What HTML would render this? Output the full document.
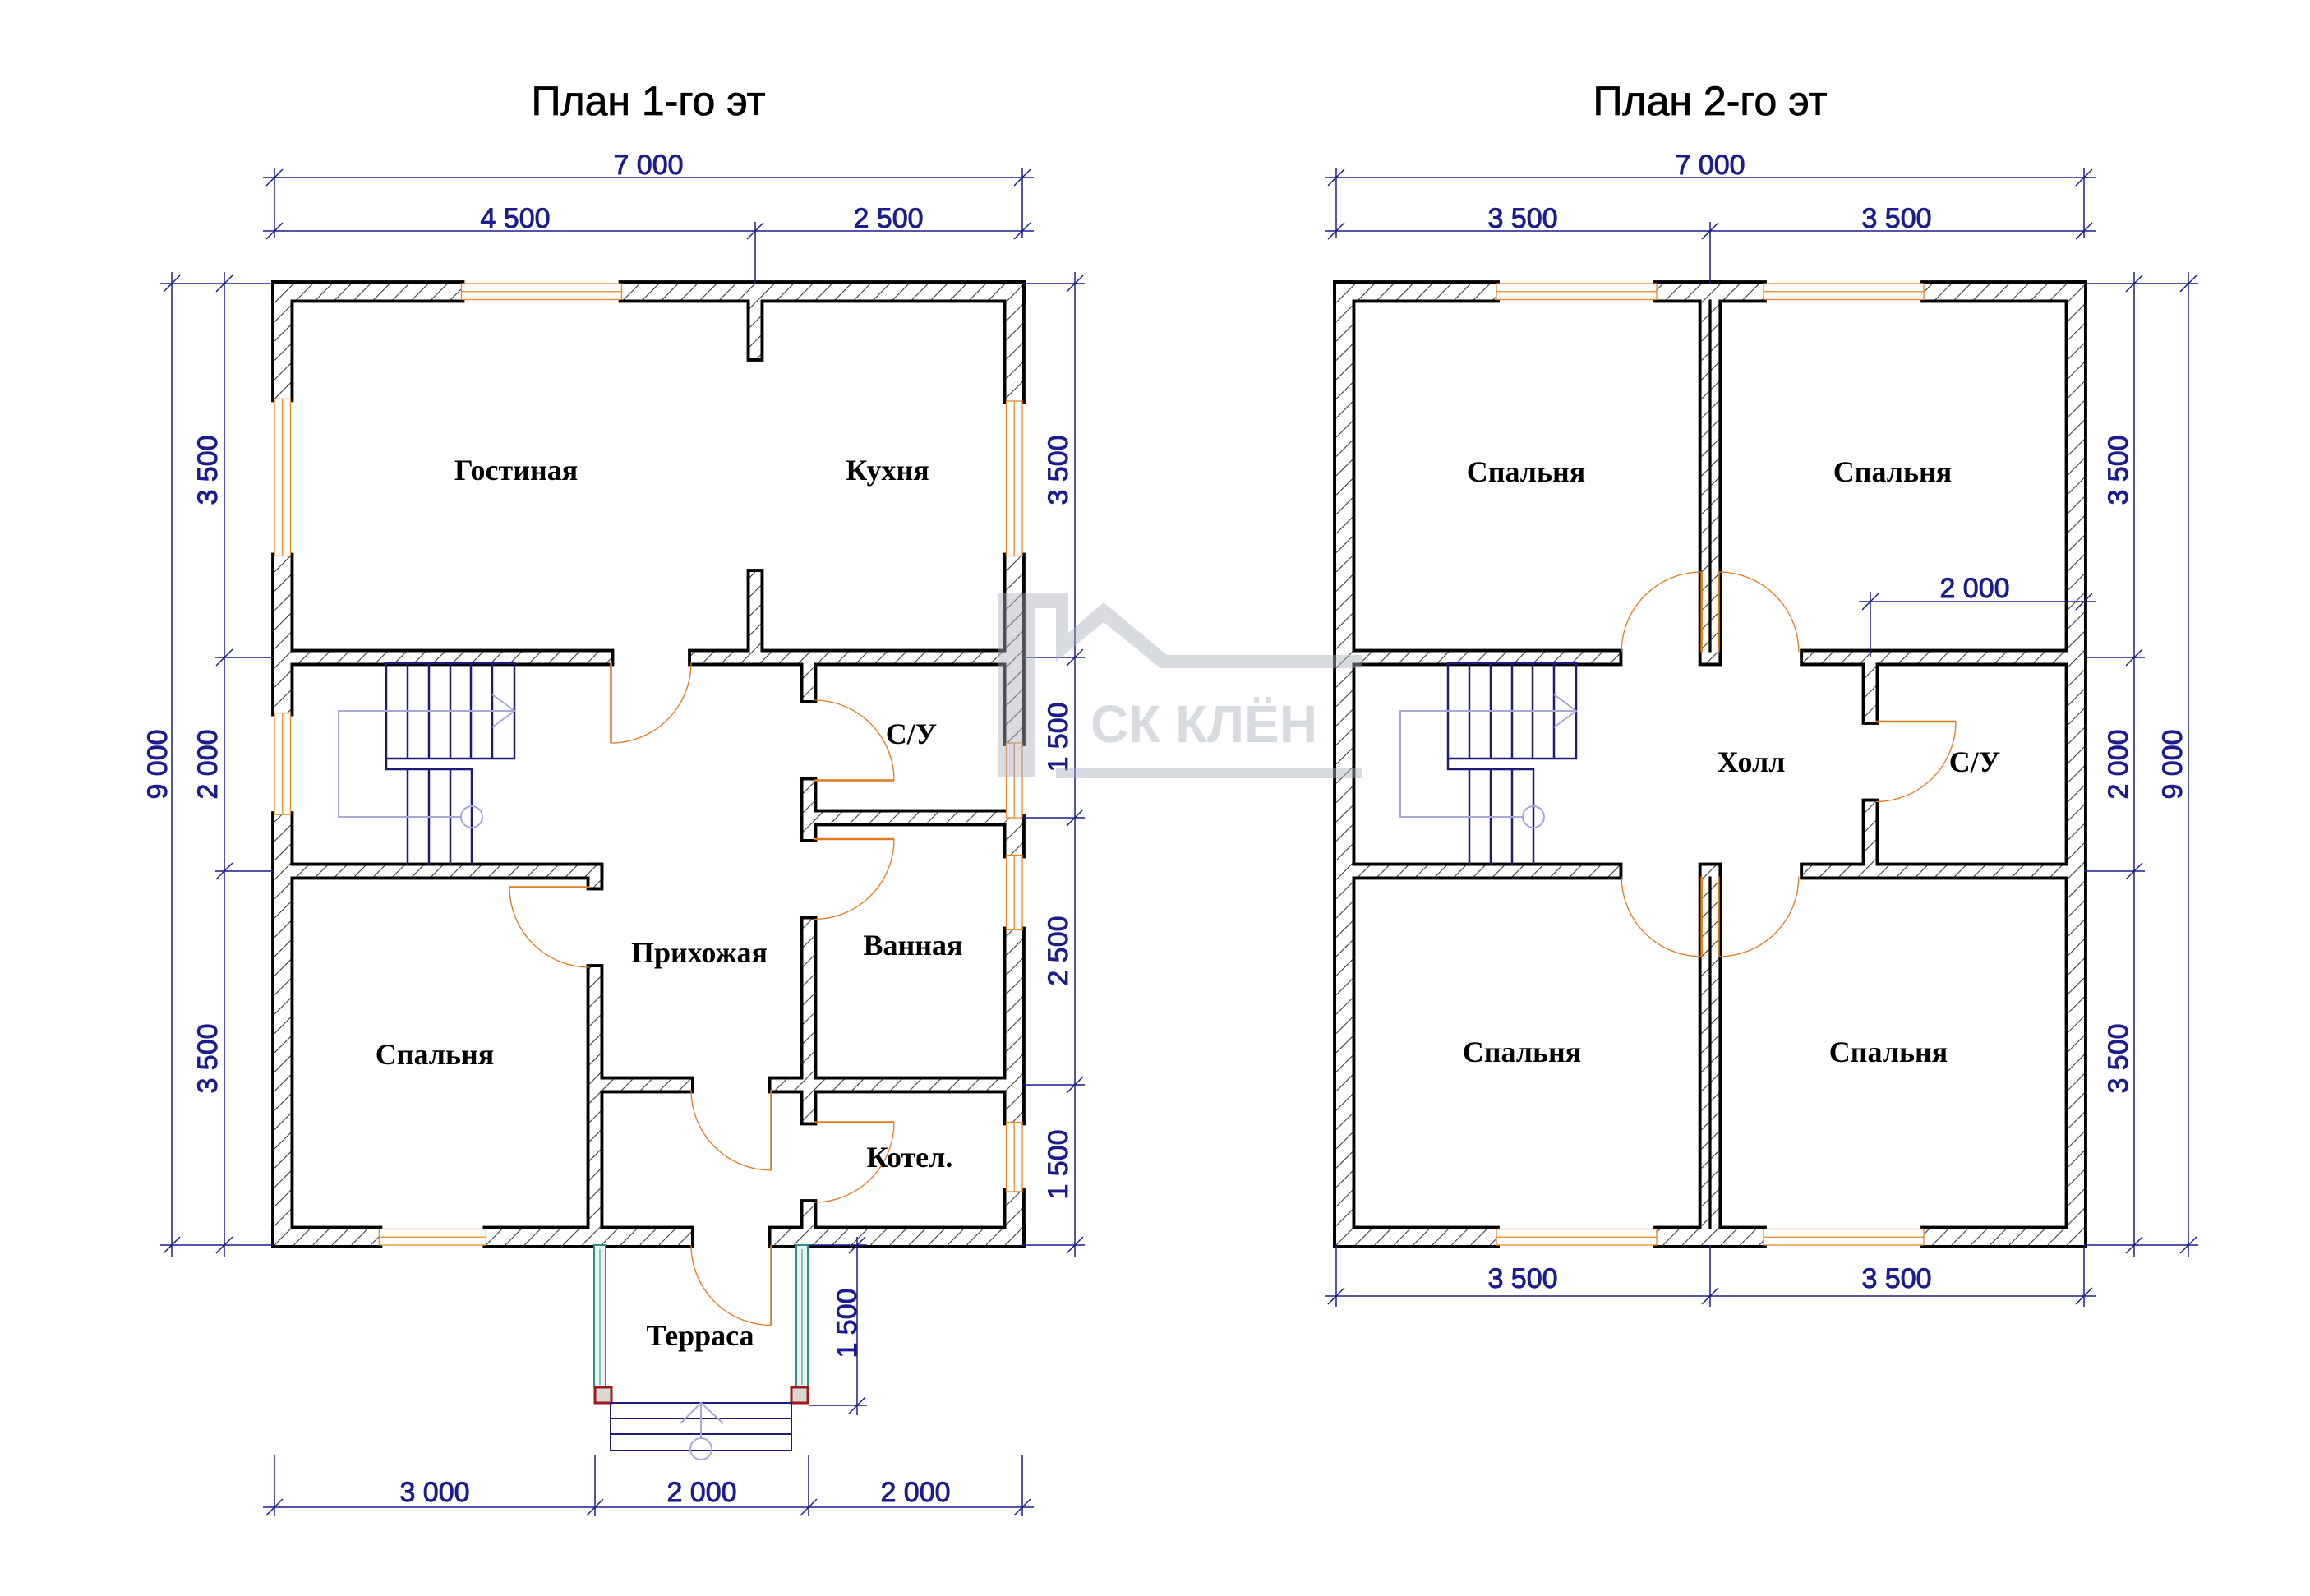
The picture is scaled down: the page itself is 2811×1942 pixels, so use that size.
<!DOCTYPE html>
<html><head><meta charset="utf-8"><style>
html,body{margin:0;padding:0;background:#fff}
svg{display:block}
.dim{font-family:"Liberation Sans",sans-serif;font-size:34px;fill:#1c1c8c;stroke:#1c1c8c;stroke-width:0.9;text-anchor:middle}
.ttl{font-family:"Liberation Sans",sans-serif;font-size:50px;fill:#000;stroke:#000;stroke-width:0.8;text-anchor:middle}
.rm{font-family:"Liberation Serif",serif;font-weight:bold;font-size:36px;fill:#000;text-anchor:middle}
.dl{stroke:#1c1c8c;stroke-width:1.5;fill:none}
.tk{stroke:#1c1c8c;stroke-width:1.5}
</style></head><body>
<svg width="2811" height="1942" viewBox="0 0 2811 1942" xmlns="http://www.w3.org/2000/svg">
<defs>
<pattern id="h" width="180" height="180" patternUnits="userSpaceOnUse"><rect width="180" height="180" fill="#fff"/><path d="M-20,200 L200,-20" stroke="#333" stroke-width="8"/></pattern>
</defs>
<rect width="2811" height="1942" fill="#fff"/>

<text class="ttl" x="789" y="140">План 1-го эт</text>
<text class="ttl" x="2081" y="140">План 2-го эт</text>

<!-- ============ PLAN 1 ============ -->
<g transform="translate(334,345) scale(0.13)">
 <g stroke="#000" stroke-width="60" fill="#000">
  <rect x="0" y="0" width="1750" height="150"/><rect x="3250" y="0" width="3750" height="150"/>
  <rect x="0" y="0" width="150" height="1080"/><rect x="0" y="2550" width="150" height="1470"/><rect x="0" y="4970" width="150" height="4030"/>
  <rect x="6850" y="0" width="150" height="1100"/><rect x="6850" y="2550" width="150" height="1750"/><rect x="6850" y="5000" width="150" height="350"/><rect x="6850" y="6050" width="150" height="1800"/><rect x="6850" y="8500" width="150" height="500"/>
  <rect x="0" y="8850" width="980" height="150"/><rect x="1980" y="8850" width="1920" height="150"/><rect x="4650" y="8850" width="2350" height="150"/>
  <rect x="4450" y="150" width="100" height="550"/><rect x="4450" y="2700" width="100" height="800"/>
  <rect x="150" y="3450" width="3000" height="100"/><rect x="3900" y="3450" width="2950" height="100"/>
  <rect x="150" y="5450" width="2900" height="100"/>
  <rect x="2950" y="5450" width="100" height="200"/><rect x="2950" y="6400" width="100" height="2450"/>
  <rect x="3050" y="7450" width="850" height="100"/><rect x="4650" y="7450" width="2200" height="100"/>
  <rect x="4950" y="3550" width="100" height="350"/><rect x="4950" y="4650" width="100" height="550"/><rect x="4950" y="5950" width="100" height="1900"/><rect x="4950" y="8600" width="100" height="250"/>
  <rect x="5050" y="4950" width="1800" height="100"/>
 </g>
 <g fill="url(#h)">
  <rect x="0" y="0" width="1750" height="150"/><rect x="3250" y="0" width="3750" height="150"/>
  <rect x="0" y="0" width="150" height="1080"/><rect x="0" y="2550" width="150" height="1470"/><rect x="0" y="4970" width="150" height="4030"/>
  <rect x="6850" y="0" width="150" height="1100"/><rect x="6850" y="2550" width="150" height="1750"/><rect x="6850" y="5000" width="150" height="350"/><rect x="6850" y="6050" width="150" height="1800"/><rect x="6850" y="8500" width="150" height="500"/>
  <rect x="0" y="8850" width="980" height="150"/><rect x="1980" y="8850" width="1920" height="150"/><rect x="4650" y="8850" width="2350" height="150"/>
  <rect x="4450" y="150" width="100" height="550"/><rect x="4450" y="2700" width="100" height="800"/>
  <rect x="150" y="3450" width="3000" height="100"/><rect x="3900" y="3450" width="2950" height="100"/>
  <rect x="150" y="5450" width="2900" height="100"/>
  <rect x="2950" y="5450" width="100" height="200"/><rect x="2950" y="6400" width="100" height="2450"/>
  <rect x="3050" y="7450" width="850" height="100"/><rect x="4650" y="7450" width="2200" height="100"/>
  <rect x="4950" y="3550" width="100" height="350"/><rect x="4950" y="4650" width="100" height="550"/><rect x="4950" y="5950" width="100" height="1900"/><rect x="4950" y="8600" width="100" height="250"/>
  <rect x="5050" y="4950" width="1800" height="100"/>
 </g>
 <g stroke="#e8872a" stroke-width="10" fill="#fff">
  <rect x="1750" y="0" width="1500" height="150"/><path d="M1750,75H3250"/>
  <rect x="0" y="1080" width="150" height="1470"/><path d="M75,1080V2550"/>
  <rect x="0" y="4020" width="150" height="950"/><path d="M75,4020V4970"/>
  <rect x="6850" y="1100" width="150" height="1450"/><path d="M6925,1100V2550"/>
  <rect x="6850" y="4300" width="150" height="700"/><path d="M6925,4300V5000"/>
  <rect x="6850" y="5350" width="150" height="700"/><path d="M6925,5350V6050"/>
  <rect x="6850" y="7850" width="150" height="650"/><path d="M6925,7850V8500"/>
  <rect x="980" y="8850" width="1000" height="150"/><path d="M980,8925H1980"/>
 </g>
 <g stroke="#e07a1e" fill="none">
  <path d="M3150,3550V4300" stroke-width="20"/><path d="M3150,4300A750,750 0 0 0 3900,3550" stroke-width="10"/>
  <path d="M5050,4650H5800" stroke-width="20"/><path d="M5800,4650A750,750 0 0 0 5050,3900" stroke-width="10"/>
  <path d="M5050,5200H5800" stroke-width="20"/><path d="M5800,5200A750,750 0 0 1 5050,5950" stroke-width="10"/>
  <path d="M2950,5650H2200" stroke-width="20"/><path d="M2200,5650A750,750 0 0 0 2950,6400" stroke-width="10"/>
  <path d="M4650,7550V8300" stroke-width="20"/><path d="M4650,8300A750,750 0 0 1 3900,7550" stroke-width="10"/>
  <path d="M5050,7850H5800" stroke-width="20"/><path d="M5800,7850A750,750 0 0 1 5050,8600" stroke-width="10"/>
  <path d="M4650,9000V9750" stroke-width="20"/><path d="M4650,9750A750,750 0 0 1 3900,9000" stroke-width="10"/>
 </g>
</g>

<!-- stair plan 1 -->
<g transform="translate(334,345)">
 <g stroke="#1e1a7a" stroke-width="2.5" fill="none">
  <rect x="136" y="462" width="156" height="116"/>
  <path d="M162,462V578M188,462V578M214,462V578M239,462V578M265,462V578"/>
  <path d="M136,578V591H240V708M162,591V708M188,591V708M214,591V708"/>
 </g>
 <g stroke="#a8a8d8" stroke-width="2" fill="none">
  <path d="M292,520H78V649H227"/><circle cx="240" cy="649" r="13"/><path d="M265,500L292,520L265,540"/>
 </g>
</g>

<!-- terrace -->
<g>
 <g stroke="#2f8f85" stroke-width="2" fill="#e8f4f3">
  <rect x="723" y="1515" width="14" height="172"/><rect x="969" y="1515" width="14" height="172"/>
 </g>
 <path d="M730,1520V1685M976,1520V1685" stroke="#2f8f85" stroke-width="1"/>
 <rect x="724" y="1688" width="20" height="19" fill="#d8d8d0" stroke="#a01818" stroke-width="3"/>
 <rect x="963" y="1688" width="20" height="19" fill="#d8d8d0" stroke="#a01818" stroke-width="3"/>
 <g stroke="#1e1a7a" stroke-width="2" fill="none"><rect x="743" y="1707" width="220" height="58"/><path d="M743,1726H963M743,1745H963"/></g>
 <g stroke="#a8a8d8" stroke-width="2" fill="none"><path d="M853,1750V1707M828,1732L853,1707L880,1732"/><circle cx="853" cy="1763" r="13"/></g>
</g>

<!-- room labels plan1 -->
<text class="rm" x="628" y="584">Гостиная</text>
<text class="rm" x="1080" y="584">Кухня</text>
<text class="rm" x="1109" y="905">С/У</text>
<text class="rm" x="851" y="1171">Прихожая</text>
<text class="rm" x="1111" y="1162">Ванная</text>
<text class="rm" x="529" y="1295">Спальня</text>
<text class="rm" x="1107" y="1420">Котел.</text>
<text class="rm" x="852" y="1637">Терраса</text>

<!-- dims plan1 -->
<g class="dl">
 <path d="M320,216H1258M320,281H1258"/>
 <path d="M334,205V290M1244,205V290M919,270V345"/>
 <path d="M195,345H334M195,1515H334M262,800H334M262,1060H334"/>
 <path d="M209,331V1529M273,331V1529"/>
 <path d="M1244,345H1320M1244,800H1320M1244,995H1320M1244,1320H1320M1244,1515H1320"/>
 <path d="M1308,331V1529"/>
 <path d="M320,1834H1258M334,1770V1845M724,1770V1845M984,1770V1845M1244,1770V1845"/>
 <path d="M1043,1505V1722M984,1515H1055M984,1710H1055"/>
</g>
<g class="tk">
 <path d="M324,226L344,206M1234,226L1254,206M324,291L344,271M909,291L929,271M1234,291L1254,271"/>
 <path d="M199,355L219,335M199,1525L219,1505M263,355L283,335M263,810L283,790M263,1070L283,1050M263,1525L283,1505"/>
 <path d="M1298,355L1318,335M1298,810L1318,790M1298,1005L1318,985M1298,1330L1318,1310M1298,1525L1318,1505"/>
 <path d="M324,1844L344,1824M714,1844L734,1824M974,1844L994,1824M1234,1844L1254,1824"/>
 <path d="M1033,1525L1053,1505M1033,1720L1053,1700"/>
</g>
<text class="dim" x="789" y="212">7 000</text>
<text class="dim" x="627" y="277">4 500</text>
<text class="dim" x="1081" y="277">2 500</text>
<text class="dim" x="529" y="1827">3 000</text>
<text class="dim" x="854" y="1827">2 000</text>
<text class="dim" x="1114" y="1827">2 000</text>
<text class="dim" transform="translate(252,572) rotate(-90)" y="12">3 500</text>
<text class="dim" transform="translate(252,930) rotate(-90)" y="12">2 000</text>
<text class="dim" transform="translate(252,1288) rotate(-90)" y="12">3 500</text>
<text class="dim" transform="translate(191,930) rotate(-90)" y="12">9 000</text>
<text class="dim" transform="translate(1287,572) rotate(-90)" y="12">3 500</text>
<text class="dim" transform="translate(1287,897) rotate(-90)" y="12">1 500</text>
<text class="dim" transform="translate(1287,1157) rotate(-90)" y="12">2 500</text>
<text class="dim" transform="translate(1287,1417) rotate(-90)" y="12">1 500</text>
<text class="dim" transform="translate(1030,1610) rotate(-90)" y="12">1 500</text>

<!-- ============ PLAN 2 ============ -->
<g transform="translate(1626,345) scale(0.13)">
 <g stroke="#000" stroke-width="60" fill="#000">
  <rect x="0" y="0" width="1500" height="150"/><rect x="3000" y="0" width="1000" height="150"/><rect x="5500" y="0" width="1500" height="150"/>
  <rect x="0" y="8850" width="1500" height="150"/><rect x="3000" y="8850" width="1000" height="150"/><rect x="5500" y="8850" width="1500" height="150"/>
  <rect x="0" y="0" width="150" height="9000"/><rect x="6850" y="0" width="150" height="9000"/>
  <rect x="3420" y="0" width="160" height="3550"/><rect x="3420" y="5450" width="160" height="3550"/>
  <rect x="150" y="3450" width="2500" height="100"/><rect x="4370" y="3450" width="2480" height="100"/>
  <rect x="150" y="5450" width="2500" height="100"/><rect x="4370" y="5450" width="2480" height="100"/>
  <rect x="4950" y="3550" width="100" height="550"/><rect x="4950" y="4850" width="100" height="600"/>
 </g>
 <g fill="url(#h)">
  <rect x="0" y="0" width="1500" height="150"/><rect x="3000" y="0" width="1000" height="150"/><rect x="5500" y="0" width="1500" height="150"/>
  <rect x="0" y="8850" width="1500" height="150"/><rect x="3000" y="8850" width="1000" height="150"/><rect x="5500" y="8850" width="1500" height="150"/>
  <rect x="0" y="0" width="150" height="9000"/><rect x="6850" y="0" width="150" height="9000"/>
  <rect x="3420" y="0" width="160" height="3550"/><rect x="3420" y="5450" width="160" height="3550"/>
  <rect x="150" y="3450" width="2500" height="100"/><rect x="4370" y="3450" width="2480" height="100"/>
  <rect x="150" y="5450" width="2500" height="100"/><rect x="4370" y="5450" width="2480" height="100"/>
  <rect x="4950" y="3550" width="100" height="550"/><rect x="4950" y="4850" width="100" height="600"/>
 </g>
 <path d="M3500,150V3450M3500,5550V8850" stroke="#000" stroke-width="25"/>
 <g stroke="#e8872a" stroke-width="10" fill="#fff">
  <rect x="1500" y="0" width="1500" height="150"/><path d="M1500,75H3000"/>
  <rect x="4000" y="0" width="1500" height="150"/><path d="M4000,75H5500"/>
  <rect x="1500" y="8850" width="1500" height="150"/><path d="M1500,8925H3000"/>
  <rect x="4000" y="8850" width="1500" height="150"/><path d="M4000,8925H5500"/>
 </g>
 <g stroke="#e07a1e" fill="none">
  <path d="M3420,3450V2700" stroke-width="20"/><path d="M3420,2700A750,750 0 0 0 2670,3450" stroke-width="10"/>
  <path d="M3580,3450V2700" stroke-width="20"/><path d="M3580,2700A750,750 0 0 1 4330,3450" stroke-width="10"/>
  <path d="M3420,5550V6300" stroke-width="20"/><path d="M3420,6300A750,750 0 0 1 2670,5550" stroke-width="10"/>
  <path d="M3580,5550V6300" stroke-width="20"/><path d="M3580,6300A750,750 0 0 0 4330,5550" stroke-width="10"/>
  <path d="M5050,4100H5800" stroke-width="20"/><path d="M5800,4100A750,750 0 0 1 5050,4850" stroke-width="10"/>
 </g>
</g>

<!-- stair plan 2 -->
<g transform="translate(1626,345)">
 <g stroke="#1e1a7a" stroke-width="2.5" fill="none">
  <rect x="136" y="462" width="156" height="116"/>
  <path d="M162,462V578M188,462V578M214,462V578M239,462V578M265,462V578"/>
  <path d="M136,578V591H240V708M162,591V708M188,591V708M214,591V708"/>
 </g>
 <g stroke="#a8a8d8" stroke-width="2" fill="none">
  <path d="M292,520H78V649H227"/><circle cx="240" cy="649" r="13"/><path d="M265,500L292,520L265,540"/>
 </g>
</g>

<text class="rm" x="1857" y="586">Спальня</text>
<text class="rm" x="2303" y="586">Спальня</text>
<text class="rm" x="2131" y="939">Холл</text>
<text class="rm" x="2403" y="939">С/У</text>
<text class="rm" x="1852" y="1292">Спальня</text>
<text class="rm" x="2298" y="1292">Спальня</text>

<!-- dims plan2 -->
<g class="dl">
 <path d="M1612,216H2550M1612,281H2550"/>
 <path d="M1626,205V290M2536,205V290M2081,270V345"/>
 <path d="M2536,345H2675M2536,1515H2675M2536,800H2610M2536,1060H2610"/>
 <path d="M2597,331V1529M2663,331V1529"/>
 <path d="M1612,1577H2550M1626,1515V1590M2081,1515V1590M2536,1515V1590"/>
 <path d="M2262,732H2550M2276,720V800"/>
</g>
<g class="tk">
 <path d="M1616,226L1636,206M2526,226L2546,206M1616,291L1636,271M2071,291L2091,271M2526,291L2546,271"/>
 <path d="M2587,355L2607,335M2587,810L2607,790M2587,1070L2607,1050M2587,1525L2607,1505M2653,355L2673,335M2653,1525L2673,1505"/>
 <path d="M1616,1587L1636,1567M2071,1587L2091,1567M2526,1587L2546,1567"/>
 <path d="M2266,742L2286,722M2526,742L2546,722"/>
</g>
<text class="dim" x="2081" y="212">7 000</text>
<text class="dim" x="1853" y="277">3 500</text>
<text class="dim" x="2308" y="277">3 500</text>
<text class="dim" x="1853" y="1567">3 500</text>
<text class="dim" x="2308" y="1567">3 500</text>
<text class="dim" x="2403" y="727">2 000</text>
<text class="dim" transform="translate(2577,572) rotate(-90)" y="12">3 500</text>
<text class="dim" transform="translate(2577,930) rotate(-90)" y="12">2 000</text>
<text class="dim" transform="translate(2577,1288) rotate(-90)" y="12">3 500</text>
<text class="dim" transform="translate(2643,930) rotate(-90)" y="12">9 000</text>

<!-- watermark -->
<g opacity="0.45" fill="#aab0bc" stroke="none">
 <path d="M1215,722H1300V770L1343,733L1420,797H1657V813H1412L1343,757L1285,805V740H1260V945H1215Z"/>
 <rect x="1285" y="935" width="372" height="12"/>
 <text x="1327" y="903" font-family="Liberation Sans, sans-serif" font-weight="bold" font-size="64">СК КЛЁН</text>
</g>
</svg>
</body></html>
